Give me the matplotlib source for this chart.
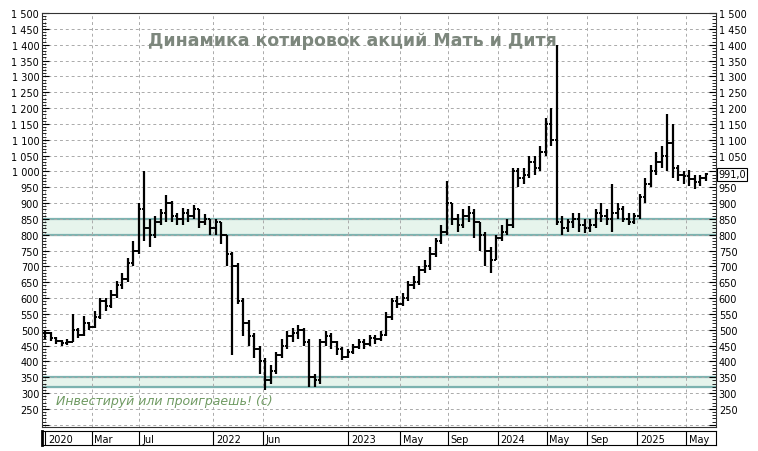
import numpy as np
import matplotlib.pyplot as plt
from matplotlib.ticker import MultipleLocator, FuncFormatter

closes = [490, 475, 465, 458, 462, 500, 485, 520, 510, 540, 590, 575, 610, 640, 660, 710,
          750, 880, 820, 800, 840, 870, 900, 860, 850, 870, 860, 880, 840, 850, 820, 840,
          800, 740, 700, 590, 520, 480, 440, 400, 340, 370, 420, 450, 480, 490, 500, 460,
          350, 340, 460, 480, 460, 440, 415, 430, 445, 460, 455, 475, 470, 485, 540, 590,
          580, 600, 640, 650, 690, 700, 740, 780, 810, 900, 850, 830, 860, 870, 840, 800,
          750, 720, 790, 810, 830, 1000, 980, 990, 1030, 1010, 1060, 1150, 1100, 840, 820, 840,
          850, 830, 820, 830, 870, 860, 850, 870, 880, 850, 840, 860, 920, 960, 1000, 1030,
          1050, 1090, 1010, 990, 985, 975, 965, 980, 991]
highs = [500, 492, 478, 468, 470, 550, 505, 545, 525, 560, 600, 600, 625, 655, 680, 725,
         780, 900, 1000, 850, 860, 880, 925, 905, 870, 885, 880, 895, 880, 865, 850, 850,
         840, 800, 745, 710, 600, 530, 490, 450, 410, 390, 430, 470, 495, 505, 515, 505,
         470, 360, 470, 495, 490, 465, 445, 440, 455, 470, 470, 485, 485, 495, 555, 600,
         605, 615, 655, 670, 700, 720, 760, 790, 830, 970, 900, 865, 880, 890, 880, 840,
         810, 760, 800, 830, 850, 1010, 1010, 1010, 1050, 1050, 1080, 1170, 1200, 1400, 860, 850,
         870, 870, 850, 850, 880, 900, 880, 960, 900, 890, 870, 870, 930, 980, 1020, 1060,
         1080, 1180, 1150, 1020, 1000, 1005, 990, 990, 995]
lows = [470, 465, 455, 450, 452, 460, 475, 480, 500, 505, 535, 560, 570, 600, 630, 650,
        700, 740, 780, 760, 790, 830, 840, 840, 830, 830, 840, 850, 820, 830, 800, 800,
        770, 700, 420, 580, 480, 450, 410, 360, 310, 330, 360, 410, 440, 460, 470, 450,
        320, 320, 330, 450, 440, 420, 405, 410, 425, 440, 440, 450, 455, 465, 480, 530,
        570, 575, 590, 630, 640, 680, 690, 730, 770, 800, 830, 810, 820, 840, 790, 750,
        700, 680, 720, 780, 800, 820, 950, 960, 980, 990, 1000, 1050, 1080, 830, 800, 810,
        820, 810, 805, 810, 820, 840, 830, 810, 850, 840, 830, 835, 850, 900, 950, 990,
        1010, 1000, 980, 970, 960, 955, 945, 955, 970]

tick_pos = [0, 8.4, 17.1, 30.5, 39.5, 55.1, 64.5, 73.1, 82.2, 91.1, 98.5, 107.6, 116.5]
tick_labels = ["2020", "Mar", "Jul", "2022", "Jun", "2023", "May", "Sep", "2024",
               "May", "Sep", "2025", "May"]

bands = [(800, 850), (320, 350)]
last_price = 991.0

W, H = 758, 452
fig = plt.figure(figsize=(W / 100, H / 100), dpi=100)
ax = fig.add_axes([42 / W, 24 / H, (716 - 42) / W, (438 - 24) / H])
xmin, xmax = -0.6, 121.9

x = np.arange(len(closes))
opens = [closes[0]] + closes[:-1]

for lo, hi in bands:
    ax.axhspan(lo, hi, color="#e6f4ec", zorder=0)
    ax.axhline(lo, color="#7db3b0", lw=1.6, zorder=1)
    ax.axhline(hi, color="#7db3b0", lw=1.6, zorder=1)

ax.vlines(x, lows, highs, color="black", lw=1.6, zorder=3)
ax.hlines(opens, x - 0.45, x, color="black", lw=1.4, zorder=3)
ax.hlines(closes, x, x + 0.45, color="black", lw=1.4, zorder=3)

ax.set_xlim(xmin, xmax)
ax.set_ylim(193, 1500)
ax.set_xticks(tick_pos)
ax.set_xticklabels([])
ax.tick_params(axis="x", length=0)
ax.yaxis.set_major_locator(MultipleLocator(50))
ax.yaxis.set_minor_locator(MultipleLocator(10))
fmt = FuncFormatter(lambda v, p: f"{int(v):,}".replace(",", " ") if v >= 250 else "")
ax.yaxis.set_major_formatter(fmt)
ax.tick_params(axis="y", which="both", left=True, right=True, labelright=True,
               labelsize=7, direction="in", pad=2)
ax.tick_params(axis="y", which="major", length=5)
ax.tick_params(axis="y", which="minor", length=3)
ax.grid(True, which="major", color="#aaaaaa", ls=(0, (3, 3)), lw=0.7)
for s in ax.spines.values():
    s.set_color("#333333")

# the last-price box covers the right-hand 1 000 label
for tick, loc in zip(ax.yaxis.get_major_ticks(), ax.get_yticks()):
    if abs(loc - 1000) < 1:
        tick.label2.set_visible(False)

ax.text(0.46, 0.935, "Динамика котировок акций Мать и Дитя", transform=ax.transAxes,
        ha="center", va="center", fontsize=12.5, color="#7d877d", fontweight="bold")
ax.text(2, 277, "Инвестируй или проиграешь! (c)", fontsize=9, color="#6f9a62",
        style="italic", va="center")
ax.text(xmax + 0.4, last_price, f"{last_price:.1f}".replace(".", ","), fontsize=7,
        va="center", ha="left", bbox=dict(boxstyle="square,pad=0.15", fc="white", ec="black",
                                          lw=0.8), zorder=5, clip_on=False)

dax = fig.add_axes([42 / W, 6 / H, (716 - 42) / W, 14 / H])
dax.set_xlim(xmin, xmax)
dax.set_ylim(0, 1)
dax.set_xticks([])
dax.set_yticks([])
for t, lab in zip(tick_pos, tick_labels):
    dax.axvline(t, color="black", lw=0.8)
    dax.text(t + 0.5, 0.45, lab, fontsize=7, va="center", ha="left")
for s in dax.spines.values():
    s.set_color("black")
dax.spines["left"].set_linewidth(2)

fig.savefig("out.png", dpi=100)
